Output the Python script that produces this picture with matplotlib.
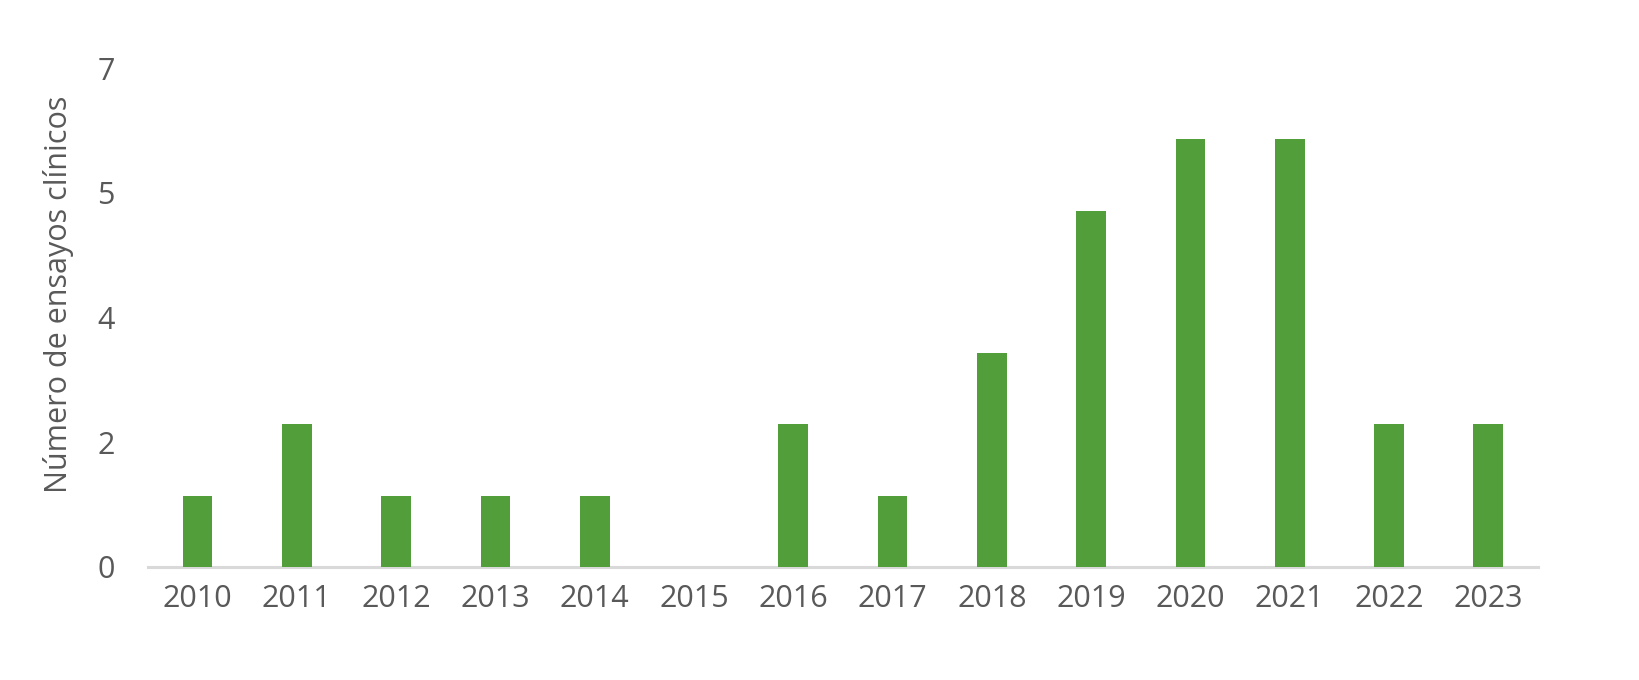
import matplotlib
matplotlib.use("Agg")
import matplotlib.pyplot as plt
from matplotlib.ticker import FixedLocator, FuncFormatter

years = ["2010", "2011", "2012", "2013", "2014", "2015", "2016",
         "2017", "2018", "2019", "2020", "2021", "2022", "2023"]
trials = [1, 2, 1, 1, 1, 0, 2, 1, 3, 5, 6, 6, 2, 2]

# Excel-style axis: 0..7 split in four steps, labels rounded to integers
y_ticks = [0, 1.75, 3.5, 5.25, 7]

plt.rcParams["font.family"] = ["Open Sans", "DejaVu Sans"]
text_color = "#595959"

fig = plt.figure(figsize=(16.4, 6.8), dpi=100)
ax = fig.add_axes([0.0902, 0.1662, 0.8476, 0.7338])

x = range(len(years))
ax.bar(x, trials, width=0.3, color="#529E3A", zorder=3)

ax.set_xlim(-0.5, len(years) - 0.5)
ax.set_ylim(0, 7)
ax.set_xticks(list(x))
ax.set_xticklabels(years)
ax.yaxis.set_major_locator(FixedLocator(y_ticks))
ax.yaxis.set_major_formatter(FuncFormatter(lambda v, p: f"{int(v + 0.5)}"))

for side in ["top", "right", "left"]:
    ax.spines[side].set_visible(False)
ax.spines["bottom"].set_color("#D9D9D9")
ax.spines["bottom"].set_linewidth(2.2)

ax.tick_params(axis="both", length=0, labelsize=22, colors=text_color)
ax.tick_params(axis="x", pad=12)
ax.tick_params(axis="y", pad=24)

ax.set_ylabel("Número de ensayos clínicos", fontsize=22, color=text_color)
ax.yaxis.set_label_coords(-0.053, 0.547)

fig.savefig("out.png", dpi=100)
